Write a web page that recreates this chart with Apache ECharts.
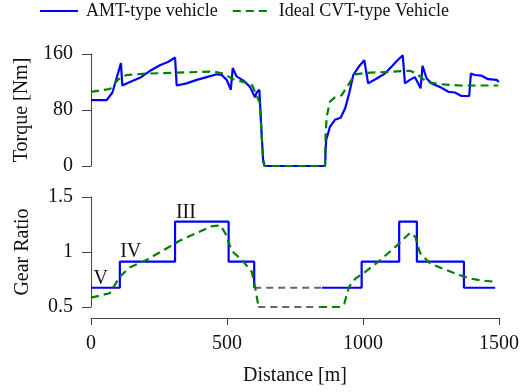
<!DOCTYPE html>
<html>
<head>
<meta charset="utf-8">
<script src="https://cdn.jsdelivr.net/npm/echarts@6/dist/echarts.min.js"></script>
<style>html,body{margin:0;padding:0;background:#fff}#c{width:522px;height:392px}</style>
</head>
<body>
<div id="c"></div>
<script>
// ---- Data ----
const xTicks = [0, 500, 1000, 1500];
const torqueTicks = [0, 80, 160];
const gearTicks = [0.5, 1, 1.5];

const amtTorqueX = [0,57,78,109,114,142,178,215,251,282,306,312,348,385,421,458,476,494,509,516,530,555,579,597,603,613,621,627,633,852,856,870,888,909,925,940,955,977,995,1009,1040,1070,1095,1113,1135,1143,1161,1179,1200,1207,1222,1240,1270,1301,1325,1349,1377,1383,1398,1422,1446,1477,1485];
const amtTorqueY = [94,94,105,147,115,120,126,136,144,149,155,115,118,123,127,131,130,123,109,140,128,122,113,98,105,109,47,6,0,0,37,56,66,69,82,104,130,143,151,118,125,132,142,150,158,118,123,127,111,143,125,118,113,106,105,100,100,132,130,129,124,123,120];

const cvtTorqueX = [0,69,100,130,203,445,482,518,585,615,625,631,852,854,858,870,888,912,937,961,1003,1161,1185,1222,1270,1343,1483];
const cvtTorqueY = [106,110,124,130,132,135,132,124,117,90,18,0,0,42,70,92,98,101,116,131,133,136,132,120,117,115,115];

const amtGearX = [0,106,106,309,309,506,506,600,600,700,849,995,995,1133,1133,1198,1198,1371,1371,1486];
const amtGearY = [0.675,0.675,0.912,0.912,1.276,1.276,0.912,0.912,0.675,'-',0.675,0.675,0.912,0.912,1.276,1.276,0.912,0.912,0.675,0.675];

const cvtGearX = [0,69,106,142,203,276,324,385,445,476,494,518,555,591,603,615,618,700,838,912,931,949,973,1003,1064,1125,1161,1173,1192,1210,1246,1307,1355,1392,1440,1483];
const cvtGearY = [0.585,0.625,0.775,0.86,0.927,1.03,1.1,1.17,1.236,1.24,1.17,1.01,0.927,0.82,0.685,0.518,0.5,'-',0.5,0.5,0.53,0.685,0.76,0.81,0.927,1.06,1.145,1.175,1.14,0.99,0.897,0.836,0.79,0.76,0.74,0.73];

const neutralX = [600,849,'-',615,836];
const neutralY = [0.675,0.675,'-',0.5,0.5];

const gearNames = ['V','IV','III'];
const gearNameX = [36,146,349];
const gearNameY = [0.755,1.0,1.355];

const seriesNames = ['AMT-type vehicle','Ideal CVT-type Vehicle'];

// ---- Build ----
const zip = (xs, ys) => xs.map((x, i) => [x, ys[i]]);
const font = 'Liberation Serif';
const axisCol = '#444';

const chart = echarts.init(document.getElementById('c'), null, {renderer: 'canvas'});
const xBase = {
  type: 'value', min: 0, max: 1500, interval: 500,
  axisLine: {show: true, onZero: false, lineStyle: {color: axisCol, width: 1}},
  axisTick: {show: true, inside: false, length: 7, lineStyle: {color: axisCol}},
  splitLine: {show: false},
  axisLabel: {fontFamily: font, fontSize: 20, color: '#111', margin: 16, formatter: v => String(v)}
};
const yBase = {
  type: 'value',
  axisLine: {show: true, lineStyle: {color: axisCol, width: 1}},
  axisTick: {show: true, length: 9, lineStyle: {color: axisCol}},
  splitLine: {show: false},
  axisLabel: {fontFamily: font, fontSize: 20, color: '#111', margin: 18, formatter: v => String(v)},
  nameLocation: 'middle',
  nameTextStyle: {fontFamily: font, fontSize: 20, color: '#111'}
};

chart.setOption({
  animation: false,
  backgroundColor: '#fff',
  legend: {
    data: seriesNames,
    left: 34, top: -3,
    itemWidth: 38, itemHeight: 14, itemGap: 14,
    itemStyle: {opacity: 0},
    textStyle: {fontFamily: font, fontSize: 18, color: '#111', padding: [0,0,0,3]}
  },
  grid: [
    {left: 91, right: 19, top: 54, height: 112},
    {left: 91, right: 19, top: 197, height: 110}
  ],
  xAxis: [
    Object.assign({}, xBase, {gridIndex: 0, show: false}),
    Object.assign({}, xBase, {gridIndex: 1, offset: 11,
      name: 'Distance [m]', nameLocation: 'middle', nameGap: 48,
      nameTextStyle: {fontFamily: font, fontSize: 20, color: '#111'}})
  ],
  yAxis: [
    Object.assign({}, yBase, {gridIndex: 0, min: 0, max: 160, interval: 80, name: 'Torque [Nm]', nameGap: 58}),
    Object.assign({}, yBase, {gridIndex: 1, min: 0.5, max: 1.5, interval: 0.5, name: 'Gear Ratio', nameGap: 58})
  ],
  series: [
    {name: seriesNames[0], type: 'line', xAxisIndex: 0, yAxisIndex: 0, showSymbol: false, symbol: 'none',
      data: zip(amtTorqueX, amtTorqueY), lineStyle: {color: '#0000ff', width: 2.2}, itemStyle: {color: '#0000ff'}},
    {name: seriesNames[0], type: 'line', xAxisIndex: 1, yAxisIndex: 1, showSymbol: false, symbol: 'none',
      data: zip(amtGearX, amtGearY), lineStyle: {color: '#0000ff', width: 2.2}, itemStyle: {color: '#0000ff'},
      markPoint: {
        symbol: 'circle', symbolSize: 0,
        label: {show: true, fontFamily: font, fontSize: 20, color: '#111', formatter: p => p.name},
        data: gearNames.map((n, i) => ({name: n, coord: [gearNameX[i], gearNameY[i]]}))
      }},
    {name: 'neutral', type: 'line', xAxisIndex: 1, yAxisIndex: 1, showSymbol: false, symbol: 'none',
      data: zip(neutralX, neutralY), lineStyle: {color: '#666', width: 2, type: [7,5]}},
    {name: seriesNames[1], type: 'line', xAxisIndex: 0, yAxisIndex: 0, showSymbol: false, symbol: 'none',
      data: zip(cvtTorqueX, cvtTorqueY), lineStyle: {color: '#008000', width: 2.2, type: [8,5]}, itemStyle: {color: '#008000'}},
    {name: seriesNames[1], type: 'line', xAxisIndex: 1, yAxisIndex: 1, showSymbol: false, symbol: 'none',
      data: zip(cvtGearX, cvtGearY), lineStyle: {color: '#008000', width: 2.2, type: [8,5]}, itemStyle: {color: '#008000'}}
  ]
});
</script>
</body>
</html>
